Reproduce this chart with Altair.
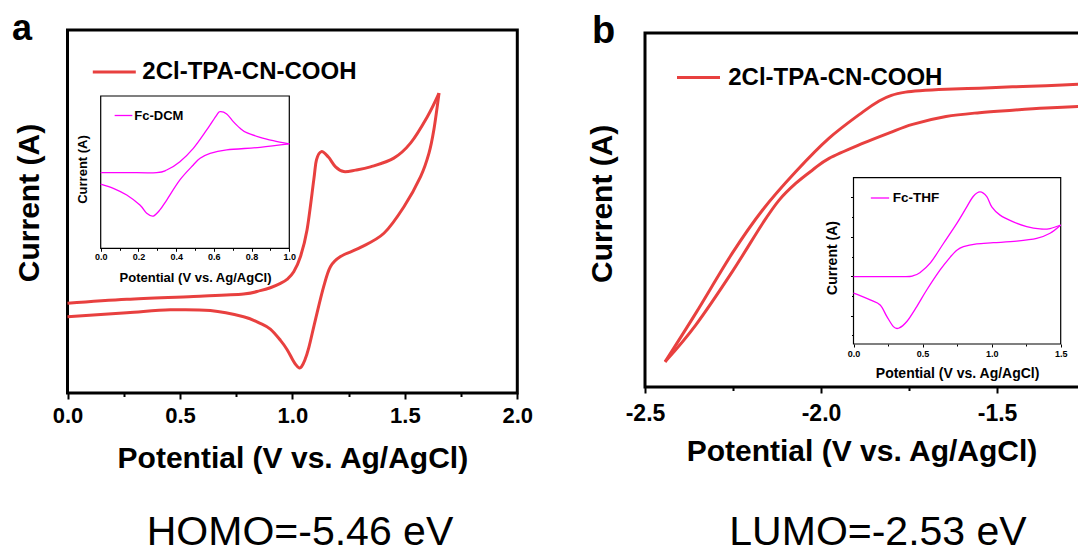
import altair as alt
import pandas as pd

# ---------------- text ----------------
SERIES_MAIN = "2Cl-TPA-CN-COOH"
SERIES_INSET_A = "Fc-DCM"
SERIES_INSET_B = "Fc-THF"
X_TITLE = "Potential (V vs. Ag/AgCl)"
Y_TITLE = "Current (A)"
PANEL_LETTERS = ["a", "b"]
CAPTIONS = ["HOMO=-5.46 eV", "LUMO=-2.53 eV"]

# ---------------- panel a: main CV (oxidation) ----------------
a_fwd_E = [0.0, 0.264, 0.560, 0.783, 0.857, 0.902, 0.947, 0.976, 1.006, 1.036, 1.065, 1.095,
           1.107, 1.129, 1.160, 1.192, 1.228, 1.281, 1.347, 1.451, 1.526, 1.600, 1.652]
a_fwd_I = [2.47, 2.58, 2.66, 2.73, 2.82, 2.90, 3.02, 3.13, 3.34, 3.76, 4.49, 5.87,
           6.42, 6.65, 6.50, 6.23, 6.10, 6.14, 6.23, 6.47, 6.89, 7.61, 8.26]
a_rev_E = [1.652, 1.629, 1.607, 1.570, 1.496, 1.407, 1.303, 1.214, 1.169, 1.139, 1.102, 1.073,
           1.055, 1.040, 1.030, 1.015, 1.000, 0.976, 0.947, 0.902, 0.857, 0.783, 0.635, 0.457,
           0.264, 0.0]
a_rev_I = [8.26, 7.25, 6.60, 5.96, 5.13, 4.40, 4.01, 3.76, 3.48, 2.93, 2.01, 1.25,
           0.90, 0.72, 0.69, 0.78, 0.93, 1.20, 1.45, 1.76, 1.92, 2.10, 2.27, 2.29,
           2.21, 2.10]

# ---------------- panel a inset: Fc in DCM ----------------
ia_fwd_E = [0.0, 0.138, 0.297, 0.350, 0.420, 0.491, 0.562, 0.615, 0.633, 0.668, 0.703, 0.739,
            0.774, 0.845, 0.915, 1.0]
ia_fwd_I = [4.97, 4.97, 4.97, 5.14, 5.69, 6.56, 7.77, 8.75, 8.97, 8.82, 8.32, 7.88,
            7.59, 7.29, 7.07, 6.85]
ia_rev_E = [1.0, 0.845, 0.668, 0.580, 0.527, 0.491, 0.420, 0.350, 0.314, 0.279, 0.244, 0.208,
            0.138, 0.067, 0.0]
ia_rev_I = [6.85, 6.63, 6.46, 6.24, 5.91, 5.47, 4.49, 3.17, 2.52, 2.12, 2.30, 2.84,
            3.50, 3.94, 4.22]

# ---------------- panel b: main CV (reduction) ----------------
b_up_E = [-1.25, -1.361, -1.456, -1.550, -1.645, -1.720, -1.760, -1.800, -1.835, -1.880,
          -1.977, -2.072, -2.166, -2.252, -2.356, -2.443]
b_up_I = [8.56, 8.51, 8.48, 8.44, 8.41, 8.37, 8.33, 8.24, 8.08, 7.78,
          7.03, 6.08, 5.00, 3.78, 2.08, 0.71]
b_lo_E = [-2.443, -2.356, -2.252, -2.166, -2.119, -2.072, -2.024, -1.977, -1.882, -1.806,
          -1.740, -1.645, -1.550, -1.456, -1.361, -1.25]
b_lo_I = [0.71, 1.75, 3.26, 4.62, 5.28, 5.75, 6.13, 6.46, 6.88, 7.18,
          7.42, 7.64, 7.75, 7.82, 7.88, 7.93]

# ---------------- panel b inset: Fc in THF ----------------
ib_fwd_E = [0.0, 0.20, 0.38, 0.43, 0.48, 0.555, 0.651, 0.748, 0.820, 0.868, 0.916, 0.965,
            1.001, 1.061, 1.157, 1.254, 1.350, 1.423, 1.5]
ib_fwd_I = [0.99, 0.99, 0.99, 1.01, 1.09, 1.33, 1.83, 2.34, 2.76, 3.03, 3.14, 3.02,
            2.76, 2.55, 2.38, 2.26, 2.20, 2.21, 2.30]
ib_rev_E = [1.5, 1.423, 1.326, 1.182, 1.013, 0.892, 0.796, 0.748, 0.699, 0.627, 0.530, 0.458,
            0.386, 0.326, 0.289, 0.241, 0.193, 0.121, 0.048, 0.0]
ib_rev_I = [2.30, 2.09, 1.96, 1.89, 1.85, 1.82, 1.75, 1.66, 1.48, 1.16, 0.65, 0.23,
            -0.15, -0.32, -0.28, -0.02, 0.27, 0.40, 0.51, 0.57]

# ---------------- ticks ----------------
a_major = [0.0, 0.5, 1.0, 1.5, 2.0]
a_minor = [0.25, 0.75, 1.25, 1.75]
b_major = [-2.5, -2.0, -1.5]
b_minor = [-2.25, -1.75]
ia_major = [0.0, 0.2, 0.4, 0.6, 0.8, 1.0]
ia_minor = [0.1, 0.3, 0.5, 0.7, 0.9]
ib_major = [0.0, 0.5, 1.0, 1.5]
ib_minor = [0.25, 0.75, 1.25]
ib_ymajor = [0, 1, 2, 3]
ib_yminor = [-0.5, 0.5, 1.5, 2.5]

# ---------------- styling / geometry ----------------
RED = "#E8403F"
MAG = "#FF00FF"
FONT = "Liberation Sans"
W, H = 1078, 554
LABEL_EXPR = "replace(format(datum.value, '.1f'), '\u2212', '-')"

AX = ([0.0, 2.0], [67.5, 517.3])
AY = ([0.0, 10.0], [393.0, 30.0])
BX = ([-2.5, -1.27], [645.0, 1078.0])
BY = ([0.0, 10.0], [387.0, 33.0])
IAX = ([0.0, 1.0], [100.7, 289.3])
IAY = ([0.0, 10.0], [248.3, 96.0])
IBX = ([0.0, 1.5], [853.5, 1060.7])
IBY = ([-0.72, 3.5], [344.0, 177.7])


def scale(spec):
    return alt.Scale(domain=spec[0], range=spec[1], nice=False, zero=False)


def cv_frame(e1, i1, e2, i2, name):
    rows = []
    for k, (e, c) in enumerate(zip(e1, i1)):
        rows.append({"E": e, "I": c, "branch": "1", "k": k, "series": name})
    for k, (e, c) in enumerate(zip(e2, i2)):
        rows.append({"E": e, "I": c, "branch": "2", "k": k, "series": name})
    return pd.DataFrame(rows)


def legend(x, y, length, sw, size, off):
    return alt.Legend(orient="none", legendX=x, legendY=y, title=None, symbolType="stroke",
                      symbolSize=length * length, symbolStrokeWidth=sw, labelFontSize=size,
                      labelFontWeight="bold", labelColor="black", labelOffset=off,
                      labelLimit=600, padding=0)


def cv_panel(df, xs_spec, ys_spec, color, lw, frame_lw, leg, frame_x2=None):
    xs = scale(xs_spec)
    ys = scale(ys_spec)
    fx2 = xs_spec[0][1] if frame_x2 is None else frame_x2
    one = pd.DataFrame({"n": [0]})
    frame = alt.Chart(one).mark_rect(fillOpacity=0, stroke="black", strokeWidth=frame_lw).encode(
        x=alt.XDatum(xs_spec[0][0], type="quantitative", scale=xs, axis=None),
        x2=alt.X2Datum(fx2),
        y=alt.YDatum(ys_spec[0][0], type="quantitative", scale=ys, axis=None),
        y2=alt.Y2Datum(ys_spec[0][1]),
    )
    line = alt.Chart(df).mark_line(strokeWidth=lw, interpolate="cardinal").encode(
        x=alt.X("E:Q", scale=xs, axis=None),
        y=alt.Y("I:Q", scale=ys, axis=None),
        color=alt.Color("series:N", scale=alt.Scale(domain=[df["series"][0]], range=[color]),
                        legend=leg),
        detail="branch:N",
        order=alt.Order("k:Q"),
    )
    return alt.layer(frame, line)


def axis_layer(values, spec, channel, axis):
    s = scale(spec)
    df = pd.DataFrame({"v": values})
    if channel == "x":
        enc = {"x": alt.X("v:Q", scale=s, axis=axis)}
    else:
        enc = {"y": alt.Y("v:Q", scale=s, axis=axis)}
    return alt.Chart(df).mark_point(opacity=0).encode(**enc)


def text_layer(text, x, y, size, weight, align):
    return alt.Chart(pd.DataFrame({"t": [text]})).mark_text(
        fontSize=size, fontWeight=weight, align=align, baseline="alphabetic", color="black"
    ).encode(text="t:N", x=alt.value(x), y=alt.value(y))


def x_axis(pos, values, tick, tw, lsize, lpad, title, tsize, ty):
    return alt.Axis(orient="bottom", offset=pos - H, values=values, labelExpr=LABEL_EXPR,
                    tickSize=tick, tickWidth=tw, labelFontSize=lsize, labelPadding=lpad,
                    labelFlush=False, labelOverlap=False, title=title, titleFontSize=tsize,
                    titleY=ty, titleBaseline="alphabetic")


def minor_x(pos, values, tick, tw):
    return alt.Axis(orient="bottom", offset=pos - H, values=values, tickSize=tick, tickWidth=tw,
                    labels=False, title=None)


def y_axis(pos, title, tsize, tx, ty, values=None, tick=0):
    kw = dict(orient="left", offset=-pos, labels=False, title=title, titleFontSize=tsize,
              titleX=tx, titleY=ty, titleBaseline="alphabetic")
    if values is None:
        kw["ticks"] = False
    else:
        kw["values"] = values
        kw["tickSize"] = tick
        kw["tickWidth"] = 1
    return alt.Axis(**kw)


# ---------------- panel a ----------------
df_a = cv_frame(a_fwd_E, a_fwd_I, a_rev_E, a_rev_I, SERIES_MAIN)
panel_a = cv_panel(df_a, AX, AY, RED, 3, 3, legend(91.3, 49, 43, 3, 24, 5))
axes_a = [
    axis_layer(a_major, AX, "x", x_axis(393, a_major, 6, 2, 22, 6, X_TITLE, 30, 74)),
    axis_layer(a_minor, AX, "x", minor_x(393, a_minor, 3.5, 2)),
    axis_layer(AY[0], AY, "y", y_axis(67.5, Y_TITLE, 30, -29, 202.5)),
]

df_ia = cv_frame(ia_fwd_E, ia_fwd_I, ia_rev_E, ia_rev_I, SERIES_INSET_A)
inset_a = cv_panel(df_ia, IAX, IAY, MAG, 1.3, 1.2, legend(114, 106, 17.7, 1.3, 13, 1.3))
axes_ia = [
    axis_layer(ia_major, IAX, "x", x_axis(248.3, ia_major, 3, 1, 9, 1, X_TITLE, 13, 32.7)),
    axis_layer(ia_minor, IAX, "x", minor_x(248.3, ia_minor, 2, 1)),
    axis_layer(IAY[0], IAY, "y", y_axis(100.7, Y_TITLE, 13, -14.4, 169)),
]

# ---------------- panel b ----------------
df_b = cv_frame(b_up_E, b_up_I, b_lo_E, b_lo_I, SERIES_MAIN)
panel_b = cv_panel(df_b, BX, BY, RED, 3, 3, legend(675.5, 54.5, 43, 3, 24, 6.7), frame_x2=-1.0)
axes_b = [
    axis_layer(b_major, BX, "x", x_axis(387, b_major, 6, 2, 23, 9, X_TITLE, 30, 73)),
    axis_layer(b_minor, BX, "x", minor_x(387, b_minor, 3.5, 2)),
    axis_layer(BY[0], BY, "y", y_axis(645, Y_TITLE, 30, -33.3, 203.3)),
]

df_ib = cv_frame(ib_fwd_E, ib_fwd_I, ib_rev_E, ib_rev_I, SERIES_INSET_B)
inset_b = cv_panel(df_ib, IBX, IBY, MAG, 1.3, 1.2, legend(870, 188, 18.3, 1.3, 13.5, 2.7))
axes_ib = [
    axis_layer(ib_major, IBX, "x", x_axis(344, ib_major, 3, 1, 9, 2.4, X_TITLE, 14, 33.7)),
    axis_layer(ib_minor, IBX, "x", minor_x(344, ib_minor, 2, 1)),
    axis_layer(ib_ymajor, IBY, "y", y_axis(853.5, Y_TITLE, 14, -16.8, 257.5,
                                           values=ib_ymajor, tick=3)),
    axis_layer(ib_yminor, IBY, "y",
               alt.Axis(orient="left", offset=-853.5, values=ib_yminor, tickSize=2,
                        tickWidth=1, labels=False, title=None)),
]

# ---------------- annotations ----------------
labels = [
    text_layer(PANEL_LETTERS[0], 12, 40, 36, "bold", "left"),
    text_layer(PANEL_LETTERS[1], 592, 43, 38, "bold", "left"),
    text_layer(CAPTIONS[0], 300, 545, 41, "normal", "center"),
    text_layer(CAPTIONS[1], 878, 545, 41, "normal", "center"),
]

chart = (
    alt.layer(panel_a, *axes_a, inset_a, *axes_ia, panel_b, *axes_b, inset_b, *axes_ib, *labels)
    .resolve_scale(x="independent", y="independent", color="independent")
    .resolve_legend(color="independent")
    .properties(width=W, height=H, autosize=alt.AutoSizeParams(type="none"), padding=0)
    .configure(font=FONT)
    .configure_view(strokeWidth=0)
    .configure_axis(grid=False, domain=False, labelFontWeight="bold", titleFontWeight="bold",
                    labelColor="black", titleColor="black", tickColor="black")
)

chart.save("out.html", embed_options={"renderer": "svg", "actions": False})
